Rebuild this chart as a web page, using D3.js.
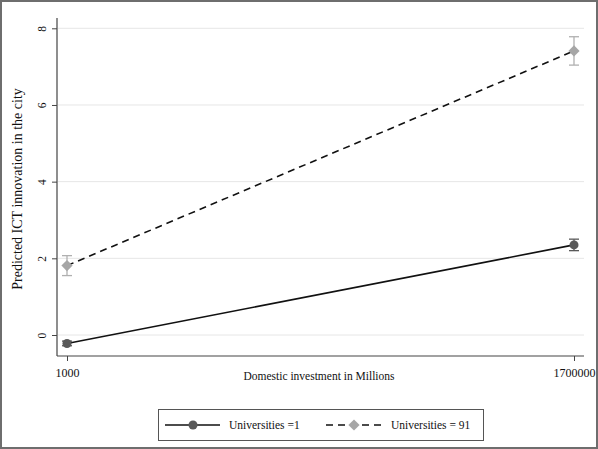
<!DOCTYPE html>
<html>
<head>
<meta charset="utf-8">
<script src="https://cdn.jsdelivr.net/npm/d3@7"></script>
<style>
  body { margin: 0; background: #fff; }
  svg { display: block; font-family: "Liberation Serif", "DejaVu Serif", serif; }
</style>
</head>
<body>
<svg id="chart" width="598" height="449"></svg>
<script>
// data
var xTicks = [1000, 1700000];
var yTicks = [0, 2, 4, 6, 8];
var seriesNames = ["Universities =1", "Universities = 91"];
var uni1Values = [-0.22, 2.35];
var uni1Err = [0.06, 0.15];
var uni91Values = [1.81, 7.41];
var uni91Err = [0.26, 0.37];

var W = 598, H = 449;
var svg = d3.select("#chart");

// outer frame
svg.append("rect")
    .attr("x", 1).attr("y", 1)
    .attr("width", W - 2).attr("height", H - 2)
    .attr("fill", "#fff")
    .attr("stroke", "#6e6e6e")
    .attr("stroke-width", 2);

var x = d3.scaleLinear().domain([1000, 1700000]).range([67, 574]);
var y = d3.scaleLinear().domain([0, 8]).range([335, 28.3]);

var plotLeft = 57, plotRight = 584, plotTop = 18, plotBottom = 356;

// grid lines
svg.append("g").selectAll("line")
    .data(yTicks)
    .enter().append("line")
    .attr("x1", plotLeft + 1).attr("x2", plotRight)
    .attr("y1", function(d) { return y(d); })
    .attr("y2", function(d) { return y(d); })
    .attr("stroke", "#e6e6e6")
    .attr("stroke-width", 1);

// Y axis
var yAxis = svg.append("g")
    .attr("transform", "translate(" + plotLeft + ",0)")
    .call(d3.axisLeft(y).tickValues(yTicks).tickSize(5).tickFormat(d3.format("d")));
yAxis.select(".domain").remove();
yAxis.append("line")
    .attr("x1", 0).attr("x2", 0)
    .attr("y1", plotTop).attr("y2", plotBottom)
    .attr("stroke", "#444").attr("stroke-width", 1.2);
yAxis.selectAll(".tick line").attr("stroke", "#444");
yAxis.selectAll(".tick text")
    .attr("fill", "#111")
    .attr("font-size", 11.5)
    .attr("font-family", "Liberation Serif, serif")
    .attr("text-anchor", "middle")
    .attr("x", 0).attr("dy", 0)
    .attr("transform", "translate(-15,0) rotate(-90)")
    .attr("dominant-baseline", "central");

// X axis
var xAxis = svg.append("g")
    .attr("transform", "translate(0," + plotBottom + ")")
    .call(d3.axisBottom(x).tickValues(xTicks).tickSize(5).tickFormat(d3.format("d")));
xAxis.select(".domain").remove();
xAxis.append("line")
    .attr("x1", plotLeft).attr("x2", plotRight)
    .attr("y1", 0).attr("y2", 0)
    .attr("stroke", "#444").attr("stroke-width", 1.2);
xAxis.selectAll(".tick line").attr("stroke", "#444");
xAxis.selectAll(".tick text")
    .attr("fill", "#111")
    .attr("font-size", 12)
    .attr("font-family", "Liberation Serif, serif")
    .attr("y", 12);

// axis titles
svg.append("text")
    .attr("x", 319).attr("y", 380)
    .attr("text-anchor", "middle")
    .attr("font-size", 11.5)
    .attr("fill", "#111")
    .text("Domestic investment in Millions");

svg.append("text")
    .attr("transform", "translate(22,189) rotate(-90)")
    .attr("text-anchor", "middle")
    .attr("font-size", 14)
    .attr("fill", "#111")
    .text("Predicted ICT innovation in the city");

var series = [
  { name: seriesNames[0], values: uni1Values, err: uni1Err, color: "#595959", errColor: "#595959", dash: null, shape: d3.symbolCircle, size: 64 },
  { name: seriesNames[1], values: uni91Values, err: uni91Err, color: "#a6a6a6", errColor: "#b0b0b0", dash: "7,5", shape: d3.symbolDiamond2, size: 80 }
];

series.forEach(function(s) {
  var pts = xTicks.map(function(xv, i) { return { x: xv, v: s.values[i], e: s.err[i] }; });
  var g = svg.append("g");

  // error bars
  pts.forEach(function(p) {
    var cx = x(p.x);
    g.append("line")
        .attr("x1", cx).attr("x2", cx)
        .attr("y1", y(p.v - p.e)).attr("y2", y(p.v + p.e))
        .attr("stroke", s.errColor).attr("stroke-width", 1.3);
    [p.v - p.e, p.v + p.e].forEach(function(ev) {
      g.append("line")
          .attr("x1", cx - 5).attr("x2", cx + 5)
          .attr("y1", y(ev)).attr("y2", y(ev))
          .attr("stroke", s.errColor).attr("stroke-width", 1.3);
    });
  });

  g.append("path")
      .datum(pts)
      .attr("fill", "none")
      .attr("stroke", "#111")
      .attr("stroke-width", 1.6)
      .attr("stroke-dasharray", s.dash)
      .attr("d", d3.line().x(function(d) { return x(d.x); }).y(function(d) { return y(d.v); }));

  g.selectAll(".pt")
      .data(pts)
      .enter().append("path")
      .attr("class", "pt")
      .attr("transform", function(d) { return "translate(" + x(d.x) + "," + y(d.v) + ")"; })
      .attr("d", d3.symbol().type(s.shape).size(s.size))
      .attr("fill", s.color);
});

// legend
var legend = svg.append("g");
legend.append("rect")
    .attr("x", 158.5).attr("y", 409.5)
    .attr("width", 325).attr("height", 31)
    .attr("fill", "#fff")
    .attr("stroke", "#555").attr("stroke-width", 1);

var entries = [
  { x0: 165, x1: 220, mx: 193, tx: 229 },
  { x0: 326, x1: 382, mx: 354, tx: 391 }
];
entries.forEach(function(e, i) {
  var s = series[i];
  legend.append("line")
      .attr("x1", e.x0).attr("x2", e.x1)
      .attr("y1", 425).attr("y2", 425)
      .attr("stroke", "#111").attr("stroke-width", 1.4)
      .attr("stroke-dasharray", s.dash);
  legend.append("path")
      .attr("transform", "translate(" + e.mx + ",425)")
      .attr("d", d3.symbol().type(s.shape).size(s.size))
      .attr("fill", s.color);
  legend.append("text")
      .attr("x", e.tx).attr("y", 429)
      .attr("font-size", 11.5)
      .attr("fill", "#111")
      .text(s.name);
});
</script>
</body>
</html>
